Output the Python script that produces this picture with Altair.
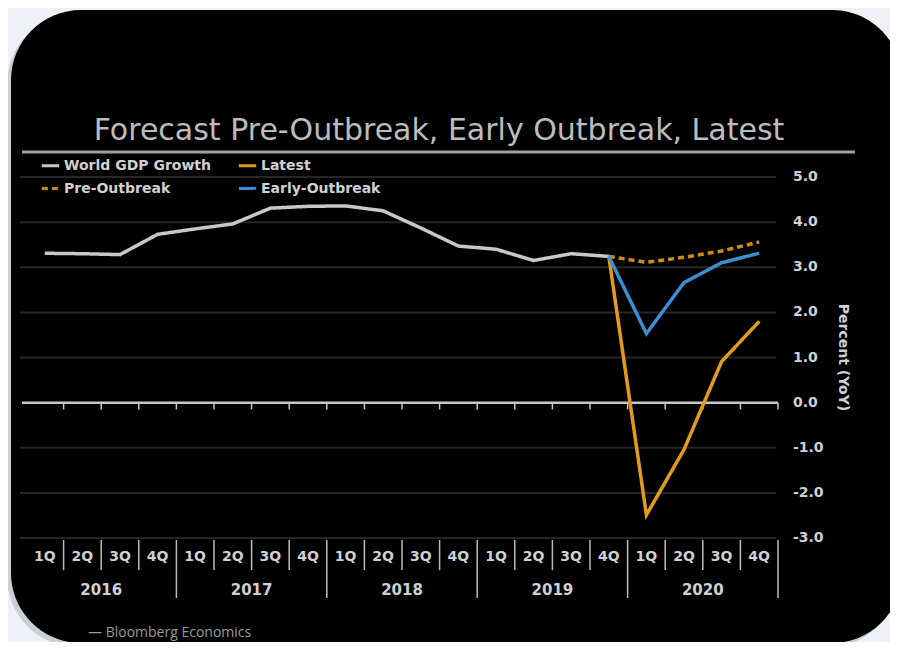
import altair as alt
import pandas as pd

# ---------------- data ----------------
quarter_labels = ["1Q", "2Q", "3Q", "4Q"] * 5
year_labels = ["2016", "2017", "2018", "2019", "2020"]

# order chosen so the 2-column legend reads row-wise like the reference
series_names = ["World GDP Growth", "Pre-Outbreak", "Latest", "Early-Outbreak"]
series_colors = ["#c8c8c8", "#d08a19", "#e39b1c", "#3b8ed4"]
series_dash = [[1, 0], [6, 4], [1, 0], [1, 0]]

# World GDP growth, 1Q2016 .. 4Q2019
gdp_growth = [3.31, 3.30, 3.28, 3.73, 3.85, 3.96, 4.31, 4.35,
              4.36, 4.25, 3.87, 3.47, 3.40, 3.15, 3.30, 3.24]
# forecasts, 4Q2019 .. 4Q2020
pre_outbreak = [3.24, 3.11, 3.22, 3.36, 3.56]
early_outbreak = [3.24, 1.53, 2.66, 3.10, 3.31]
latest = [3.24, -2.49, -1.04, 0.91, 1.80]

y_ticks = [-3, -2, -1, 0, 1, 2, 3, 4, 5]

# ---------------- tables ----------------
rows = []
for i, v in enumerate(gdp_growth):
    rows.append({"idx": i, "value": v, "series": "World GDP Growth"})
start = len(gdp_growth) - 1
for name, vals in [("Latest", latest), ("Pre-Outbreak", pre_outbreak),
                   ("Early-Outbreak", early_outbreak)]:
    for j, v in enumerate(vals):
        rows.append({"idx": start + j, "value": v, "series": name})
lines_df = pd.DataFrame(rows)

n_q = len(quarter_labels)
q_df = pd.DataFrame({"idx": list(range(n_q)), "label": quarter_labels})
yr_df = pd.DataFrame({"idx": [4 * k + 1.5 for k in range(len(year_labels))],
                      "label": year_labels})
bounds = [i + 0.5 for i in range(n_q)]
qsep_df = pd.DataFrame({"b": [b for b in bounds if (b + 0.5) % 4 != 0]})
ysep_df = pd.DataFrame({"b": [b for b in bounds if (b + 0.5) % 4 == 0]})
ztick_df = pd.DataFrame({"b": bounds, "y0": 0.0, "y1": -0.15})
grid_df = pd.DataFrame({"v": [t for t in y_ticks if t != 0]})
zero_df = pd.DataFrame({"z": [0.0]})
ylab_df = pd.DataFrame({"v": y_ticks, "label": [f"{t:.1f}" for t in y_ticks]})
one = pd.DataFrame({"k": [0]})

W, H = 752, 361
xs = alt.Scale(domain=[-0.5, n_q - 0.5], nice=False, zero=False)
ys = alt.Scale(domain=[-3, 5], nice=False)
FONT = "DejaVu Sans"
LIGHT = "#d0d0d0"

shadow = alt.Chart(one).mark_rect(cornerRadius=70, color="#9aa4b0", opacity=0.45).encode(
    x=alt.value(-19), x2=alt.value(872), y=alt.value(-163), y2=alt.value(470))
frame = alt.Chart(one).mark_rect(cornerRadius=70, color="#000000").encode(
    x=alt.value(-15), x2=alt.value(876), y=alt.value(-167), y2=alt.value(466))

title = alt.Chart(one).mark_text(
    text="Forecast Pre-Outbreak, Early Outbreak, Latest", font=FONT,
    fontSize=30, color="#bcbcbc", align="center", baseline="alphabetic").encode(
    x=alt.value(413), y=alt.value(-37))
title_rule = alt.Chart(one).mark_rule(color="#a0a0a0", strokeWidth=3).encode(
    x=alt.value(-4), x2=alt.value(829), y=alt.value(-25))
source = alt.Chart(one).mark_text(
    text="\u2014 Bloomberg Economics", font="Open Sans", fontSize=14, color="#9a9a9a",
    align="left", baseline="alphabetic").encode(x=alt.value(62), y=alt.value(460))

grid = alt.Chart(grid_df).mark_rule(color="#262626", strokeWidth=2).encode(
    y=alt.Y("v:Q", scale=ys, axis=None),
    x=alt.value(-6), x2=alt.value(W - 2))

ylabels = alt.Chart(ylab_df).mark_text(font=FONT, fontSize=14, fontWeight="bold",
                                       color=LIGHT, align="left",
                                       baseline="middle").encode(
    y=alt.Y("v:Q", scale=ys, axis=None), x=alt.value(W + 15), text="label:N")
ytitle = alt.Chart(one).mark_text(
    text="Percent (YoY)", font=FONT, fontSize=14, fontWeight="bold", color=LIGHT,
    angle=90, align="center", baseline="middle").encode(
    x=alt.value(W + 65), y=alt.value(H / 2))

zero = alt.Chart(zero_df).mark_rule(color="#c8c8c8", strokeWidth=2.5).encode(
    y=alt.Y("z:Q", scale=ys, axis=None), x=alt.value(-4), x2=alt.value(W))
zticks = alt.Chart(ztick_df).mark_rule(color="#c8c8c8", strokeWidth=1.5).encode(
    x=alt.X("b:Q", scale=xs, axis=None),
    y=alt.Y("y0:Q", scale=ys, axis=None), y2="y1:Q")

leg = dict(title=None, orient="none", legendX=14, legendY=-22, columns=2,
           columnPadding=20, rowPadding=5, labelColor=LIGHT, labelFont=FONT,
           labelFontSize=14, labelFontWeight="bold", symbolType="stroke",
           symbolStrokeWidth=3, symbolSize=300, labelOffset=3, zindex=1, padding=0)

lines = alt.Chart(lines_df).mark_line(strokeWidth=3.5).encode(
    x=alt.X("idx:Q", scale=xs, axis=None),
    y=alt.Y("value:Q", scale=ys, axis=None),
    color=alt.Color("series:N", sort=series_names,
                    scale=alt.Scale(domain=series_names, range=series_colors),
                    legend=alt.Legend(**leg)),
    strokeDash=alt.StrokeDash("series:N", sort=series_names,
                              scale=alt.Scale(domain=series_names, range=series_dash),
                              legend=alt.Legend(**leg)),
    order=alt.Order("idx:Q"))

qtext = alt.Chart(q_df).mark_text(font=FONT, fontSize=14, fontWeight="bold",
                                  color=LIGHT, baseline="middle").encode(
    x=alt.X("idx:Q", scale=xs, axis=None), y=alt.value(380), text="label:N")
ytext = alt.Chart(yr_df).mark_text(font=FONT, fontSize=15, fontWeight="bold",
                                   color=LIGHT, baseline="middle").encode(
    x=alt.X("idx:Q", scale=xs, axis=None), y=alt.value(413), text="label:N")
qsep = alt.Chart(qsep_df).mark_rule(color="#bdbdbd", strokeWidth=1.5).encode(
    x=alt.X("b:Q", scale=xs, axis=None), y=alt.value(363), y2=alt.value(393))
ysep = alt.Chart(ysep_df).mark_rule(color="#bdbdbd", strokeWidth=1.5).encode(
    x=alt.X("b:Q", scale=xs, axis=None), y=alt.value(363), y2=alt.value(421))

chart = alt.layer(
    shadow, frame, title, title_rule, source, grid, ylabels, ytitle, zero, zticks,
    lines, qtext, ytext, qsep, ysep
).properties(
    width=W, height=H,
    autosize=alt.AutoSizeParams(type="none"),
    padding={"left": 18, "top": 169, "right": 112, "bottom": 104},
    background="#eef2f7",
).configure_view(stroke=None)

chart.save("out.html", embed_options={"renderer": "svg", "actions": False})
